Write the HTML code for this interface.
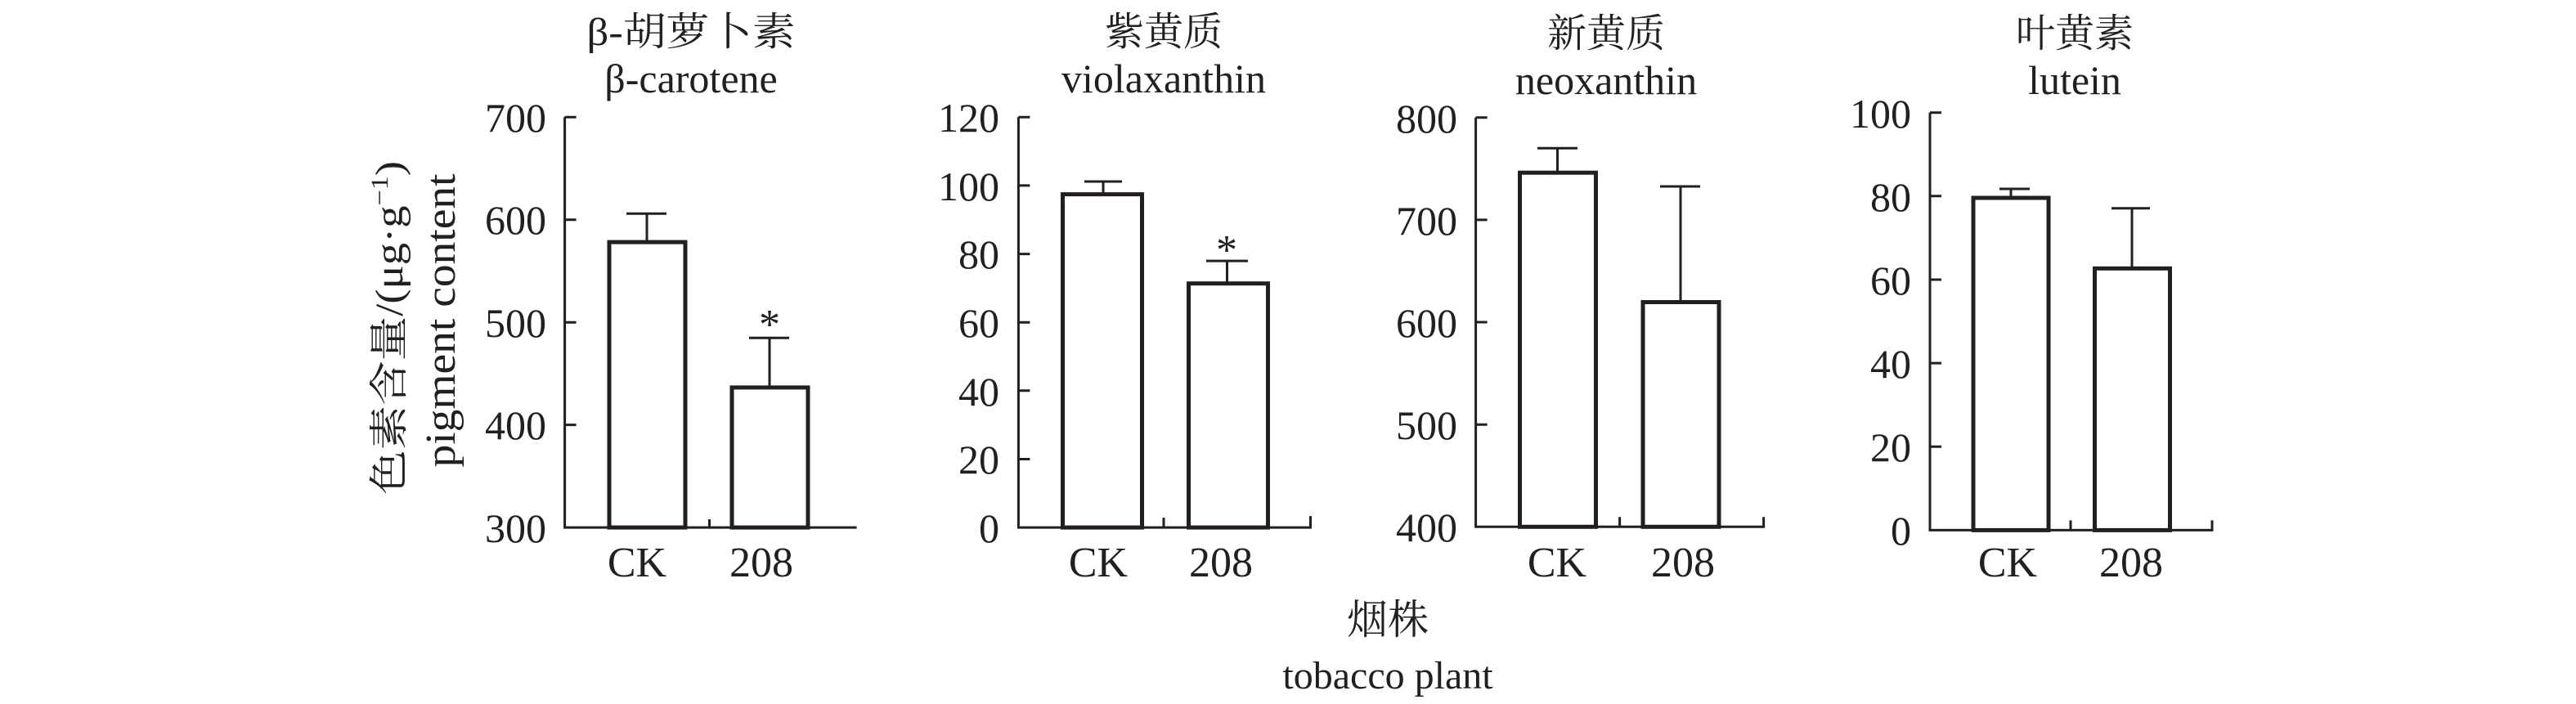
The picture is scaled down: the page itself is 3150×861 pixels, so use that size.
<!DOCTYPE html>
<html><head><meta charset="utf-8"><style>
html,body{margin:0;padding:0;background:#fff;}
svg{display:block;}
text{font-family:"Liberation Serif","Noto Serif CJK SC",serif;fill:#231f20;}
.t{font-size:50px;}
.k{font-size:52px;}
.c{font-size:48px;font-family:"Liberation Serif","Noto Serif CJK SC","Noto Sans CJK SC",serif;}
</style></head><body>
<svg width="3150" height="861" viewBox="0 0 3150 861" xmlns="http://www.w3.org/2000/svg">
<g stroke="#231f20" fill="none" stroke-width="3">
<path d="M690.6 143.3 V645.1 H1047.6"/>
<path d="M690.6 143.3 h14 M690.6 268.7 h14 M690.6 394.2 h14 M690.6 519.6 h14 M867.5 645.1 v-10"/>
<rect x="745" y="296.1" width="93" height="349" stroke-width="5"/>
<rect x="895" y="473.9" width="93" height="171.2" stroke-width="5"/>
<path d="M791 296.1 V261.3 M766 261.3 H815 M941 473.9 V413.2 M916 413.2 H965"/>
<path d="M1245.4 143.3 V645.1 H1602.5 v-14"/>
<path d="M1245.4 143.3 h14 M1245.4 226.9 h14 M1245.4 310.6 h14 M1245.4 394.2 h14 M1245.4 477.8 h14 M1245.4 561.5 h14 M1423 645.1 v-12"/>
<rect x="1299.5" y="237.6" width="97" height="407.5" stroke-width="5"/>
<rect x="1453.5" y="346.7" width="97" height="298.4" stroke-width="5"/>
<path d="M1349 237.6 V222 M1326 222 H1372 M1500.5 346.7 V319.1 M1475 319.1 H1526"/>
<path d="M1804.6 143.7 V644.3 H2156.6 v-12"/>
<path d="M1804.6 143.7 h14 M1804.6 268.9 h14 M1804.6 394 h14 M1804.6 519.2 h14 M1980.6 644.3 v-12"/>
<rect x="1858.5" y="211.2" width="93" height="433.1" stroke-width="5"/>
<rect x="2009" y="369.5" width="93" height="274.8" stroke-width="5"/>
<path d="M1904.5 211.2 V181.2 M1880 181.2 H1929 M2055 369.5 V228 M2030 228 H2079"/>
<path d="M2360 137.7 V648.4 H2705 v-12"/>
<path d="M2360 137.7 h14 M2360 239.8 h14 M2360 342 h14 M2360 444.1 h14 M2360 546.3 h14 M2532 648.4 v-12"/>
<rect x="2413" y="242" width="92" height="406.4" stroke-width="5"/>
<rect x="2561.5" y="328.3" width="92" height="320.1" stroke-width="5"/>
<path d="M2459 242 V231 M2445 231 H2482 M2607 328.3 V254.8 M2582 254.8 H2629"/>
</g>
<g class="t" text-anchor="end">
<text x="668" y="161">700</text><text x="668" y="286">600</text><text x="668" y="412">500</text><text x="668" y="537">400</text><text x="668" y="663">300</text>
<text x="1222" y="161">120</text><text x="1222" y="245">100</text><text x="1222" y="328">80</text><text x="1222" y="412">60</text><text x="1222" y="496">40</text><text x="1222" y="579">20</text><text x="1222" y="663">0</text>
<text x="1782" y="162">800</text><text x="1782" y="287">700</text><text x="1782" y="412">600</text><text x="1782" y="537">500</text><text x="1782" y="662">400</text>
<text x="2337" y="156">100</text><text x="2337" y="258">80</text><text x="2337" y="360">60</text><text x="2337" y="462">40</text><text x="2337" y="564">20</text><text x="2337" y="666">0</text>
</g>
<g class="k" text-anchor="middle">
<text x="779" y="705">CK</text><text x="931" y="705">208</text>
<text x="1343" y="705">CK</text><text x="1493" y="705">208</text>
<text x="1904" y="705">CK</text><text x="2058" y="705">208</text>
<text x="2455" y="705">CK</text><text x="2606" y="705">208</text>
<text x="941" y="414">*</text><text x="1500" y="323">*</text>
</g>
<g class="t" text-anchor="middle">
<text x="845" y="113">β-carotene</text>
<text x="1423" y="113">violaxanthin</text>
<text x="1964" y="115">neoxanthin</text>
<text x="2537" y="115">lutein</text>
<text x="1697" y="842" font-size="48">tobacco plant</text>
</g>
<g class="c" text-anchor="middle">
<text x="845" y="55" textLength="255" lengthAdjust="spacingAndGlyphs">β-胡萝卜素</text>
<text x="1423" y="55">紫黄质</text>
<text x="1964" y="57">新黄质</text>
<text x="2537" y="57">叶黄素</text>
<text x="1697" y="775" font-size="50">烟株</text>
</g>
<text class="c" font-size="52" text-anchor="middle" transform="translate(492,401) rotate(-90)" textLength="408" lengthAdjust="spacingAndGlyphs">色素含量/(μg·g<tspan dy="-18" font-size="30">−1</tspan><tspan dy="18">)</tspan></text>
<text class="k" text-anchor="middle" transform="translate(556,392) rotate(-90)" textLength="359" lengthAdjust="spacingAndGlyphs">pigment content</text>
</svg>
</body></html>
